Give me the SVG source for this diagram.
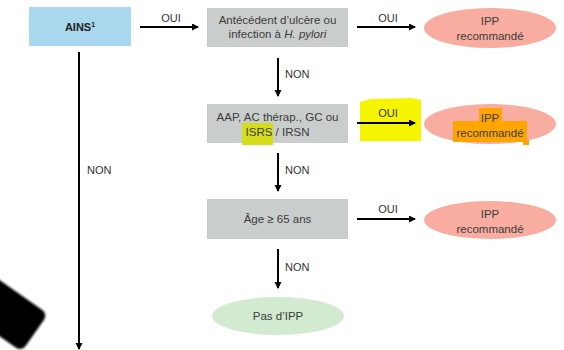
<svg xmlns="http://www.w3.org/2000/svg" width="564" height="350" viewBox="0 0 564 350">
<defs>
<style>
.t{font-family:"Liberation Sans",Arial,sans-serif;font-size:11.5px;fill:#3c3c3c;text-anchor:middle}
.l{font-family:"Liberation Sans",Arial,sans-serif;font-size:11px;fill:#333;}
.box{fill:#c9cdcc}
.ipp{fill:#f8ada0}
.c{stroke:#000;stroke-width:2;fill:none;marker-end:url(#ah)}
</style>
<marker id="ah" markerWidth="8" markerHeight="8" refX="6" refY="3.5" orient="auto" markerUnits="userSpaceOnUse">
<path d="M0,0 L7,3.5 L0,7 Z" fill="#000"/>
</marker>
<filter id="bl"><feGaussianBlur stdDeviation="1"/></filter>
</defs>
<rect width="564" height="350" fill="#fff"/>

<g id="ains">
<rect x="29" y="7" width="102" height="39" fill="#a9d8ee"/>
<text x="80" y="31" class="t" style="font-weight:bold;fill:#222;font-size:11px">AINS<tspan font-size="7" dy="-4">1</tspan></text>
</g>

<g id="ulcere">
<rect class="box" x="207" y="8" width="141" height="39"/>
<text x="277.5" y="24" class="t">Antécédent d’ulcère ou</text>
<text x="277.5" y="38" class="t">infection à <tspan font-style="italic">H. pylori</tspan></text>
</g>

<g id="ipp1">
<ellipse class="ipp" cx="490" cy="28" rx="66" ry="20"/>
<text x="490" y="25" class="t">IPP</text>
<text x="490" y="40" class="t">recommandé</text>
</g>

<g id="aap">
<rect class="box" x="207" y="104" width="141" height="39"/>
<rect x="242" y="123" width="31" height="22" fill="#d5dc1a"/>
<text x="277.5" y="121" class="t">AAP, AC thérap., GC ou</text>
<text x="277.5" y="136" class="t">ISRS / IRSN</text>
</g>

<g id="ipp2">
<ellipse class="ipp" cx="490" cy="124" rx="66" ry="20"/>
<path d="M479,108 L502,108 L502,121 L527,121 L527,140 L529,140 L529,145 L523,145 L523,142 L453,142 L453,121 L479,121 Z" fill="#ffa500"/>
<text x="490" y="122" class="t">IPP</text>
<text x="490" y="137" class="t">recommandé</text>
</g>

<g id="age">
<rect class="box" x="207" y="199" width="141" height="40"/>
<text x="277.5" y="223" class="t">Âge ≥ 65 ans</text>
</g>

<g id="ipp3">
<ellipse class="ipp" cx="490" cy="220" rx="66" ry="19"/>
<text x="490" y="218" class="t">IPP</text>
<text x="490" y="233" class="t">recommandé</text>
</g>

<g id="pasipp">
<ellipse cx="278" cy="316" rx="66" ry="19" fill="#d2ebd0"/>
<text x="278" y="320" class="t">Pas d’IPP</text>
</g>

<g id="highlight-oui">
<path d="M360,102 L370,99 L412,98 L421,100 L421,141 L360,141 Z" fill="#f5f500"/>
</g>

<g id="connectors">
<line class="c" x1="140" y1="27" x2="198" y2="27"/>
<text x="171" y="22" class="l" text-anchor="middle">OUI</text>
<line class="c" x1="357" y1="27" x2="415" y2="27"/>
<text x="388" y="22" class="l" text-anchor="middle">OUI</text>
<line class="c" x1="357" y1="123" x2="415" y2="123"/>
<text x="388" y="117" class="l" text-anchor="middle">OUI</text>
<line class="c" x1="357" y1="219" x2="415" y2="219"/>
<text x="388" y="213" class="l" text-anchor="middle">OUI</text>
<line class="c" x1="278" y1="58" x2="278" y2="96"/>
<text x="285" y="78" class="l">NON</text>
<line class="c" x1="278" y1="153" x2="278" y2="191"/>
<text x="285" y="174" class="l">NON</text>
<line class="c" x1="278" y1="249" x2="278" y2="288"/>
<text x="285" y="271" class="l">NON</text>
<line class="c" x1="79" y1="52" x2="79" y2="349"/>
<text x="87" y="174" class="l">NON</text>
</g>

<rect transform="translate(48,314) rotate(35)" x="-95" y="0" width="95" height="46" rx="7" fill="#000" filter="url(#bl)"/>
</svg>
